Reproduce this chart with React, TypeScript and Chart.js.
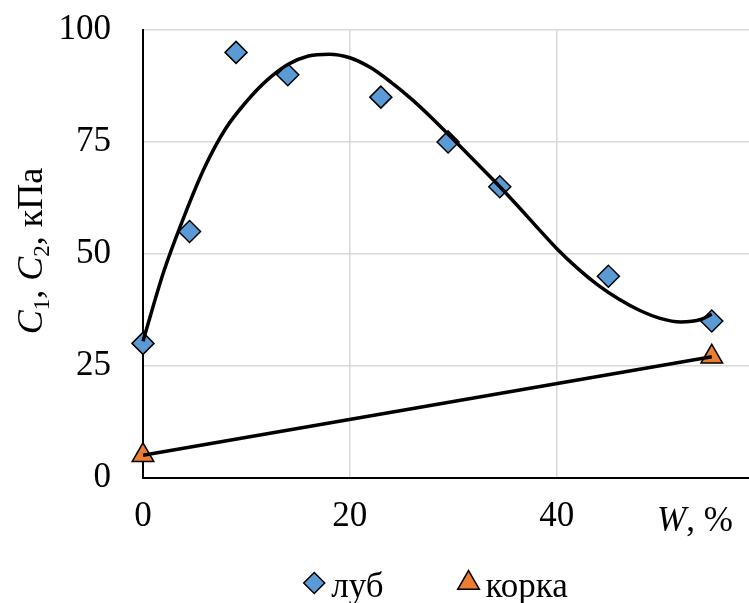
import React, { useEffect, useRef } from 'react';
import { Chart, registerables } from 'chart.js';

Chart.register(...registerables);

// Measured points (W, %; C, kPa)
const lubW = [0, 4.5, 9, 14, 23, 29.5, 34.5, 45, 55];
const lubC = [30, 55, 95, 90, 85, 75, 65, 45, 35];
const korkaW = [0, 55];
const korkaC = [5, 27];

// Trend curve for "луб"
const lubTrendW = [0, 2, 4, 6, 8, 10, 12, 14, 16, 18, 20, 22, 24, 26, 28, 30, 32, 34, 36, 38, 40, 42, 44, 46, 48, 50, 52, 54, 55];
const lubTrendC = [30.5, 46, 58.5, 69.5, 78, 84, 88.8, 92.3, 94.2, 94.6, 93.8, 91.6, 88.3, 84.5, 80.2, 75.6, 70.9, 66.2, 61.3, 56.2, 51.2, 46.8, 43, 39.9, 37.4, 35.6, 34.8, 35.4, 36.5];

const xTicks = [0, 20, 40];
const yTicks = [0, 25, 50, 75, 100];
const seriesNames = ['луб', 'корка'];
const xAxisName = 'W';
const xAxisUnit = ', %';
const yAxisParts = [
  { t: 'C', style: 'italic' },
  { t: '1', style: 'sub' },
  { t: ', ', style: 'normal' },
  { t: 'C', style: 'italic' },
  { t: '2', style: 'sub' },
  { t: ', кПа', style: 'normal' },
];

const SERIF = "'Liberation Serif', 'Times New Roman', serif";
const BLUE = '#5b9bd5';
const ORANGE = '#ed7d31';

const toXY = (xs: number[], ys: number[]) => xs.map((x, i) => ({ x, y: ys[i] }));

function drawMarker(ctx: CanvasRenderingContext2D, style: string, x: number, y: number, r: number, fill: string) {
  ctx.beginPath();
  if (style === 'rectRot') {
    ctx.moveTo(x, y - r);
    ctx.lineTo(x + r, y);
    ctx.lineTo(x, y + r);
    ctx.lineTo(x - r, y);
  } else {
    ctx.moveTo(x, y - r);
    ctx.lineTo(x + r * Math.sin((2 * Math.PI) / 3), y - r * Math.cos((2 * Math.PI) / 3));
    ctx.lineTo(x - r * Math.sin((2 * Math.PI) / 3), y - r * Math.cos((2 * Math.PI) / 3));
  }
  ctx.closePath();
  ctx.fillStyle = fill;
  ctx.fill();
  ctx.lineWidth = 1.5;
  ctx.strokeStyle = '#000';
  ctx.stroke();
}

const textPlugin = {
  id: 'textPlugin',
  afterDraw(chart: any) {
    const ctx: CanvasRenderingContext2D = chart.ctx;
    ctx.save();
    ctx.fillStyle = '#000';
    ctx.textBaseline = 'alphabetic';
    ctx.textAlign = 'left';

    // Y axis title (rotated)
    const fs = 36;
    const fontFor = (s: string) =>
      s === 'italic' ? `italic ${fs}px ${SERIF}` : s === 'sub' ? `${Math.round(fs * 0.65)}px ${SERIF}` : `${fs}px ${SERIF}`;
    let total = 0;
    for (const p of yAxisParts) {
      ctx.font = fontFor(p.style);
      total += ctx.measureText(p.t).width;
    }
    ctx.save();
    ctx.translate(42, 251);
    ctx.rotate(-Math.PI / 2);
    let px = -total / 2;
    for (const p of yAxisParts) {
      ctx.font = fontFor(p.style);
      ctx.fillText(p.t, px, p.style === 'sub' ? 7 : 0);
      px += ctx.measureText(p.t).width;
    }
    ctx.restore();

    // X axis name at the tick-label row
    const base = 531;
    ctx.font = `italic 35px ${SERIF}`;
    let wx = 657;
    ctx.fillText(xAxisName, wx, base);
    wx += ctx.measureText(xAxisName).width;
    ctx.font = `35px ${SERIF}`;
    ctx.fillText(xAxisUnit, wx, base);

    // Legend
    ctx.font = `35px ${SERIF}`;
    const items = chart.data.datasets.filter((d: any) => d.inLegend);
    const gap = 75;
    const widths = items.map((d: any) => 27 + ctx.measureText(d.label).width);
    const totalW = widths.reduce((a: number, b: number) => a + b, 0) + gap * (items.length - 1);
    let lx = 436 - totalW / 2;
    const ly = 583;
    items.forEach((d: any, i: number) => {
      drawMarker(ctx, d.pointStyle, lx + 10, ly, d.pointStyle === 'triangle' ? 12.5 : 10.5, d.backgroundColor);
      ctx.fillStyle = '#000';
      ctx.fillText(d.label, lx + 27, 597);
      lx += widths[i] + gap;
    });
    ctx.restore();
  },
};

export default function App() {
  const ref = useRef<HTMLCanvasElement | null>(null);
  useEffect(() => {
    if (!ref.current) return;
    const chart = new Chart(ref.current, {
      type: 'scatter',
      data: {
        datasets: [
          {
            label: 'trend-луб',
            data: toXY(lubTrendW, lubTrendC),
            showLine: true,
            borderColor: '#000',
            borderWidth: 3.5,
            pointRadius: 0,
            cubicInterpolationMode: 'monotone',
            fill: false,
            clip: false,
          } as any,
          {
            label: 'trend-корка',
            data: toXY(korkaW, korkaC),
            showLine: true,
            borderColor: '#000',
            borderWidth: 3.5,
            pointRadius: 0,
            fill: false,
            clip: false,
          } as any,
          {
            label: seriesNames[0],
            inLegend: true,
            data: toXY(lubW, lubC),
            pointStyle: 'rectRot',
            pointRadius: 11,
            backgroundColor: BLUE,
            borderColor: '#000',
            borderWidth: 1.5,
            showLine: false,
            clip: false,
          } as any,
          {
            label: seriesNames[1],
            inLegend: true,
            data: toXY(korkaW, korkaC),
            pointStyle: 'triangle',
            pointRadius: 12.5,
            backgroundColor: ORANGE,
            borderColor: '#000',
            borderWidth: 1.5,
            showLine: false,
            clip: false,
          } as any,
        ],
      },
      options: {
        animation: false,
        responsive: false,
        layout: { autoPadding: false, padding: { top: 30, left: 0, right: 0, bottom: 0 } },
        plugins: { legend: { display: false }, tooltip: { enabled: false } },
        scales: {
          x: {
            type: 'linear',
            min: 0,
            max: 58.6,
            afterBuildTicks: (s: any) => {
              s.ticks = xTicks.map((v) => ({ value: v }));
            },
            afterFit: (s: any) => {
              s.height = 603 - 477.7;
              s.paddingLeft = 0;
              s.paddingRight = 0;
            },
            grid: { color: '#d9d9d9', lineWidth: 1.5, drawTicks: false },
            border: { color: '#000', width: 2 },
            ticks: { color: '#000', font: { family: SERIF, size: 35 }, padding: 18, maxRotation: 0 },
          },
          y: {
            type: 'linear',
            min: 0,
            max: 100,
            afterBuildTicks: (s: any) => {
              s.ticks = yTicks.map((v) => ({ value: v }));
            },
            afterFit: (s: any) => {
              s.width = 143;
              s.paddingTop = 0;
              s.paddingBottom = 0;
            },
            grid: { color: '#d9d9d9', lineWidth: 1.5, drawTicks: false },
            border: { color: '#000', width: 2 },
            ticks: { color: '#000', font: { family: SERIF, size: 35 }, padding: 32 },
          },
        },
      } as any,
      plugins: [textPlugin],
    });
    return () => chart.destroy();
  }, []);
  return (
    <div style={{ position: 'absolute', left: 0, top: 0, width: 749, height: 603, overflow: 'hidden', background: '#fff' }}>
      <canvas ref={ref} width={749} height={603} style={{ width: 749, height: 603, display: 'block' }} />
    </div>
  );
}
